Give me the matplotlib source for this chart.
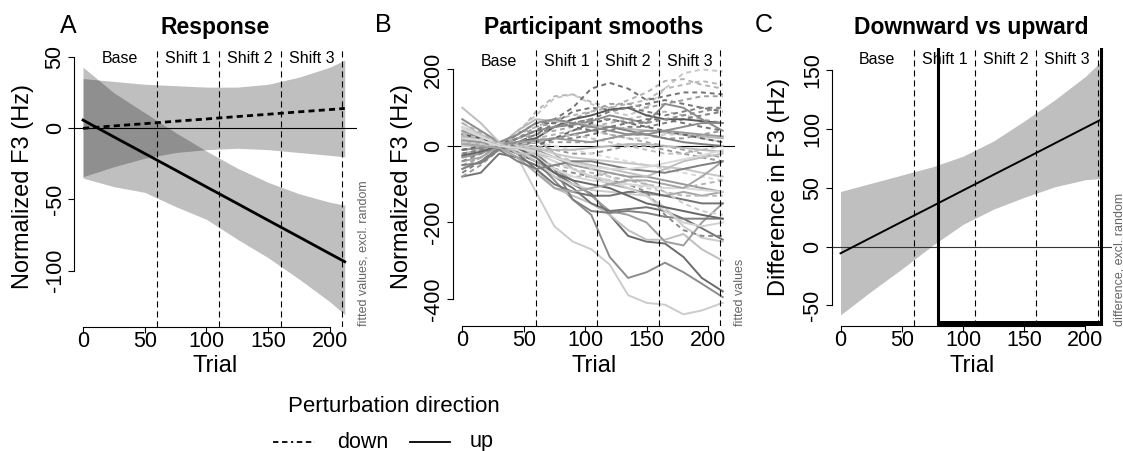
import matplotlib
matplotlib.use('Agg')
import matplotlib.pyplot as plt
from matplotlib.lines import Line2D
from matplotlib.transforms import blended_transform_factory

plt.rcParams['font.family'] = ['Liberation Sans', 'DejaVu Sans']

# ---------------- data ----------------
period_bounds = [60, 110, 160, 210]
period_labels = ['Base', 'Shift 1', 'Shift 2', 'Shift 3']
period_centers = [30, 85, 135, 185]
xticks = [0, 50, 100, 150, 200]

# Panel A: fitted response (excl. random effects)
trial_a = [0, 25, 50, 75, 100, 125, 150, 175, 200, 212]
up_fit = [5.8, -6.0, -17.7, -29.4, -41.2, -52.9, -64.7, -76.4, -88.2, -93.8]
up_hi = [43, 25, 11, -3, -16, -28, -38, -46, -52, -54]
up_lo = [-35, -41, -45, -55, -64, -78, -91, -106, -122, -131]
down_fit = [0.0, 1.7, 3.3, 5.0, 6.6, 8.3, 9.9, 11.6, 13.2, 14.0]
down_hi = [35, 33, 31, 30, 29, 29, 31, 36, 43, 48]
down_lo = [-34, -27, -21, -17, -15, -14, -15, -17, -19, -20]

# Panel B: participant smooths
trial_b = [0, 15, 30, 45, 60, 75, 90, 105, 120, 135, 150, 165, 180, 195, 212]
up_smooths = [
    [35, 15, 0, -30, -120, -210, -250, -270, -310, -390, -410, -415, -440, -430, -410],
    [20, 10, 0, -15, -40, -90, -140, -180, -290, -345, -330, -305, -330, -360, -395],
    [10, 5, 0, -20, -40, -70, -100, -125, -180, -235, -250, -255, -290, -345, -380],
    [-20, -10, 0, -20, -60, -110, -130, -150, -180, -220, -245, -245, -230, -270, -300],
    [40, 20, 0, -10, -30, -60, -90, -130, -170, -180, -200, -250, -260, -200, -150],
    [-80, -70, -20, -30, -50, -80, -110, -150, -170, -165, -160, -170, -190, -215, -245],
    [0, 5, 0, -10, -20, -60, -140, -170, -175, -170, -175, -185, -190, -190, -190],
    [50, 30, 10, -10, -40, -80, -100, -115, -120, -125, -130, -160, -210, -240, -250],
    [-40, -30, 0, 10, 20, -20, -60, -80, -100, -110, -125, -130, -120, -130, -120],
    [30, 20, 0, 10, 20, 50, 70, 80, 95, 100, 80, 70, 70, 65, 60],
    [-10, -5, 0, 20, 40, 50, 55, 65, 80, 70, 60, 110, 100, 70, 40],
    [10, 5, 0, 40, 70, 65, 60, 55, 50, 45, 40, 35, 30, 25, 20],
    [-30, -20, 0, 0, -10, -30, -50, -60, -70, -80, -80, -90, -100, -110, -120],
    [60, 30, 5, 0, -5, -20, -30, -35, -40, -45, -50, -55, -60, -70, -80],
    [20, 10, 0, -20, -60, -100, -120, -130, -130, -120, -120, -130, -140, -150, -150],
    [0, 0, 0, -10, -20, -40, -60, -80, -90, -110, -130, -170, -200, -210, -200],
    [-60, -40, -5, 5, 10, 20, 30, 40, 50, 40, 30, 20, 10, 5, 0],
    [25, 15, 0, -5, -10, -10, -10, -5, 0, 5, 5, 0, -5, -10, -15],
    [15, 10, 5, 10, 15, 20, 15, 10, 20, 30, 40, 40, 35, 30, 25],
    [45, 25, 5, -10, -30, -60, -80, -90, -95, -100, -105, -110, -110, -115, -120],
    [-25, -15, 0, -5, -30, -70, -90, -100, -110, -130, -150, -160, -170, -180, -190],
    [5, 0, -5, -30, -70, -110, -120, -110, -100, -90, -90, -100, -110, -80, -40],
    [70, 40, 10, 30, 60, 70, 60, 50, 40, 30, 30, 40, 50, 60, 60],
    [100, 60, 10, -20, -20, -30, -40, -50, -60, -70, -80, -60, -40, -30, -20],
    [-50, -45, -10, -40, -60, -50, -40, -40, -50, -60, -65, -70, -60, -50, -40],
    [20, 15, 0, -5, -15, -30, -45, -55, -60, -60, -55, -45, -35, -25, -10],
]
down_smooths = [
    [-20, -10, 0, 40, 80, 125, 135, 110, 90, 80, 100, 150, 190, 200, 195],
    [-40, -20, 0, 30, 90, 130, 135, 115, 100, 110, 120, 150, 160, 170, 160],
    [10, 5, 0, 20, 40, 70, 100, 150, 165, 150, 120, 130, 140, 140, 135],
    [-10, -5, 0, 10, 30, 60, 90, 100, 95, 100, 110, 120, 110, 100, 90],
    [30, 15, 0, 20, 50, 60, 70, 90, 110, 110, 100, 110, 120, 130, 130],
    [-60, -30, 0, 10, 20, 30, 40, 50, 60, 70, 80, 90, 80, 70, 60],
    [-70, -40, -5, 0, 10, 20, 20, 30, 40, 50, 50, 60, 70, 80, 90],
    [0, 0, 0, 10, 20, 20, 30, 40, 30, 20, 20, 30, 30, 20, 10],
    [40, 20, 0, 0, 0, -10, -20, -20, -10, 0, 0, -10, -20, -30, -40],
    [-30, -15, 0, -10, -30, -60, -80, -80, -70, -80, -100, -120, -130, -130, -130],
    [10, 5, 0, -20, -40, -60, -70, -80, -90, -100, -120, -180, -220, -235, -235],
    [-50, -30, 0, 20, 30, 40, 50, 40, 30, 20, 10, 0, -10, -20, -30],
    [20, 10, 0, 30, 60, 60, 50, 40, 50, 60, 70, 70, 60, 50, 40],
    [50, 30, 5, 10, 10, 0, -10, -20, -30, -40, -50, -60, -70, -80, -90],
    [-20, -10, 0, 20, 40, 50, 60, 70, 90, 100, 90, 80, 90, 100, 100],
    [0, 0, 0, -20, -40, -50, -60, -70, -80, -90, -100, -110, -110, -100, -90],
    [-80, -50, -10, 0, 10, 10, 10, 10, 20, 30, 30, 20, 20, 30, 40],
    [30, 20, 5, 5, 10, 20, 30, 20, 10, 0, -10, -20, -20, -10, 0],
    [-10, 0, 0, 0, 0, 20, 40, 60, 70, 60, 50, 40, 30, 20, 10],
    [10, 5, 0, 0, 0, -20, -40, -60, -80, -100, -110, -120, -150, -170, -180],
    [-40, -20, 0, 10, 30, 50, 60, 70, 70, 60, 60, 70, 80, 90, 100],
    [60, 35, 5, 30, 50, 70, 80, 90, 100, 120, 140, 170, 175, 160, 150],
]

# Panel C: difference curve
trial_c = [0, 25, 50, 75, 100, 125, 150, 175, 200, 212]
diff_fit = [-5.6, 7.8, 21.2, 34.5, 47.9, 61.3, 74.6, 88.0, 101.4, 107.8]
diff_hi = [47, 54, 61, 68, 77, 90, 107, 125, 145, 157]
diff_lo = [-58, -38, -19, 1, 19, 32, 42, 51, 57, 58]
sig_start, sig_end = 78.5, 212.0

# ---------------- styles ----------------
up_grays = [0.80, 0.55, 0.42, 0.75, 0.62, 0.45, 0.50, 0.80, 0.65, 0.35, 0.55, 0.72,
            0.60, 0.78, 0.45, 0.82, 0.50, 0.72, 0.60, 0.85, 0.40, 0.65, 0.55, 0.75,
            0.50, 0.85]
down_grays = [0.78, 0.72, 0.45, 0.45, 0.62, 0.70, 0.50, 0.80, 0.60, 0.72, 0.55, 0.65,
              0.45, 0.85, 0.50, 0.70, 0.60, 0.75, 0.40, 0.80, 0.55, 0.70]

W, H = 1123, 451
fig = plt.figure(figsize=(W / 100, H / 100), dpi=100)


def axes_px(l, r, t, b):
    return fig.add_axes([l / W, 1 - b / H, (r - l) / W, (b - t) / H])


def fx(x):
    return x / W


def fy(y):
    return 1 - y / H


def style(ax, xlim, ylim, yticks, label_y_px):
    ax.set_xlim(xlim)
    ax.set_ylim(ylim)
    ax.patch.set_alpha(0)
    for s in ['top', 'right']:
        ax.spines[s].set_visible(False)
    for s in ['left', 'bottom']:
        ax.spines[s].set_linewidth(0.8)
    ax.spines['left'].set_bounds(yticks[0], yticks[-1])
    ax.spines['bottom'].set_bounds(0, 200)
    ax.set_xticks(xticks)
    ax.set_xticklabels([str(t) for t in xticks])
    ax.set_yticks(yticks)
    ax.set_yticklabels([str(t) for t in yticks], rotation=90, va='center')
    ax.tick_params(axis='both', length=4, width=0.8, labelsize=15.5)
    ax.tick_params(axis='x', pad=-1.2)
    ax.tick_params(axis='y', pad=2)
    for b in period_bounds:
        ax.axvline(b, color='black', lw=0.8, linestyle=(0, (5.5, 3.5)), zorder=3)
    tr = blended_transform_factory(ax.transData, fig.transFigure)
    for c, lab in zip(period_centers, period_labels):
        ax.text(c, fy(label_y_px), lab, transform=tr, ha='center', va='baseline',
                fontsize=11.5, zorder=5)


# ---------------- Panel A ----------------
axA = axes_px(74, 357, 48, 327)
style(axA, (-7.3, 221.9), (-139.7, 56.5), [-100, -50, 0, 50], 63)
axA.fill_between(trial_a, up_lo, up_hi, color='black', alpha=0.25, lw=0)
axA.fill_between(trial_a, down_lo, down_hi, color='black', alpha=0.25, lw=0)
axA.axhline(0, color='black', lw=0.8)
axA.plot(trial_a, down_fit, color='black', lw=2.0, linestyle=(0, (2.2, 1.5)))
axA.plot(trial_a, up_fit, color='black', lw=2.0)

# ---------------- Panel B ----------------
axB = axes_px(452.7, 735, 48, 325.7)
style(axB, (-7.8, 222.0), (-469.8, 256.2), [-400, -200, 0, 200], 66)
axB.axhline(0, color='black', lw=0.8, zorder=1)
n = max(len(up_smooths), len(down_smooths))
for i in range(n):
    if i < len(down_smooths):
        g = down_grays[i]
        axB.plot(trial_b, down_smooths[i], color=(g, g, g), lw=1.4,
                 linestyle=(0, (2.5, 2.0)), zorder=2)
    if i < len(up_smooths):
        g = up_grays[i]
        axB.plot(trial_b, up_smooths[i], color=(g, g, g), lw=1.4, zorder=2)

# ---------------- Panel C ----------------
axC = axes_px(831.7, 1111.7, 48, 325.7)
style(axC, (-7.2, 221.4), (-67.2, 169.1), [-50, 0, 50, 100, 150], 64)
axC.fill_between(trial_c, diff_lo, diff_hi, color='black', alpha=0.25, lw=0)
axC.axhline(0, color='#333333', lw=0.8)
axC.plot(trial_c, diff_fit, color='black', lw=1.4)
for xv in (sig_start, sig_end):
    axC.axvline(xv, color='red', lw=0.6, linestyle=':', zorder=4)
    axC.axvline(xv + 0.8, color='black', lw=2.2, zorder=4)
trC = blended_transform_factory(axC.transData, axC.transAxes)
axC.plot([sig_start, sig_end + 0.8], [0.002, 0.002], color='red', lw=0.5,
         transform=trC, clip_on=False, zorder=4)
axC.plot([sig_start, sig_end + 1.4], [0.011, 0.011], color='black', lw=3.6,
         transform=trC, clip_on=False, zorder=5, solid_capstyle='butt')

# ---------------- text ----------------
fig.text(fx(215.5), fy(34), 'Response', ha='center', va='baseline',
         fontsize=16.5, fontweight='bold')
fig.text(fx(594), fy(34), 'Participant smooths', ha='center', va='baseline',
         fontsize=16.5, fontweight='bold')
fig.text(fx(971.7), fy(34), 'Downward vs upward', ha='center', va='baseline',
         fontsize=16.5, fontweight='bold')

fig.text(fx(60), fy(33), 'A', ha='left', va='baseline', fontsize=18)
fig.text(fx(375), fy(32), 'B', ha='left', va='baseline', fontsize=18)
fig.text(fx(755), fy(32), 'C', ha='left', va='baseline', fontsize=18)

for cx in (215.5, 594, 971.7):
    fig.text(fx(cx), fy(372), 'Trial', ha='center', va='baseline', fontsize=17)

fig.text(fx(23), fy(187), 'Normalized F3 (Hz)', rotation=90, ha='center',
         va='center', fontsize=17)
fig.text(fx(402), fy(187), 'Normalized F3 (Hz)', rotation=90, ha='center',
         va='center', fontsize=17)
fig.text(fx(779), fy(187), 'Difference in F3 (Hz)', rotation=90, ha='center',
         va='center', fontsize=17)

side_col = '#666666'
fig.text(fx(363), fy(326), 'fitted values, excl. random', rotation=90,
         ha='center', va='bottom', fontsize=9, color=side_col)
fig.text(fx(740), fy(326), 'fitted values', rotation=90,
         ha='center', va='bottom', fontsize=9, color=side_col)
fig.text(fx(1119), fy(326), 'difference, excl. random', rotation=90,
         ha='center', va='bottom', fontsize=9, color=side_col)

# ---------------- legend ----------------
fig.text(fx(394), fy(407), 'Perturbation direction', ha='center', va='center',
         fontsize=16)
fig.add_artist(Line2D([fx(273), fx(315)], [fy(442), fy(442)], color='black',
                      lw=1.3, linestyle=(0, (3, 2, 3, 2, 1.2, 2, 3, 2))))
fig.text(fx(337), fy(442), 'down', ha='left', va='center', fontsize=15.5)
fig.add_artist(Line2D([fx(410), fx(450)], [fy(442), fy(442)], color='black',
                      lw=1.3))
fig.text(fx(470), fy(442), 'up', ha='left', va='center', fontsize=15.5)

fig.savefig('out.png', dpi=100)
